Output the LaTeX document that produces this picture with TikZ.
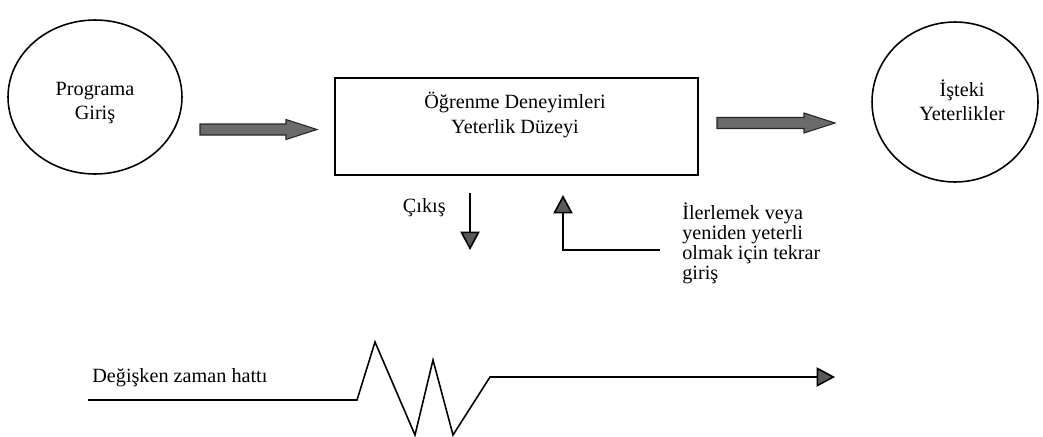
\documentclass[tikz,border=0pt]{standalone}
\usepackage{fontspec}
\setmainfont{Liberation Serif}
\usepackage{tikz}
\usetikzlibrary{arrows.meta,calc,positioning,shapes.geometric}

\tikzset{
	lbl/.style={align=center,inner sep=0pt,font=\fontsize{11.5}{13.7}\selectfont},
	oval/.style={draw,ellipse,line width=0.9pt,inner sep=0pt},
	stagebox/.style={draw,rectangle,line width=0.9pt,minimum width=7.26cm,minimum height=1.94cm},
	fatarrow/.style={draw=black!85,fill=black!58,line width=0.6pt},
	thinarrow/.style={line width=0.9pt,-{Triangle[length=10.5pt,width=11pt,fill=black!65]}}
}

\begin{document}
\begin{tikzpicture}[x=0.02cm,y=-0.02cm]
	\useasboundingbox (0,0) rectangle (1043,436);

	% giris / cikis
	\node[oval,minimum width=3.48cm,minimum height=3.08cm] (prog) at (95,97) {};
	\node[lbl] (progt) at (95,103) {Programa\\Giriş};
	\node[oval,minimum width=3.32cm,minimum height=3.2cm] (is) at (955,102) {};
	\node[lbl] (ist) at (962,100) {İşteki\\Yeterlikler};

	% ogrenme
	\node[stagebox] (ogr) at (516.5,126.5) {};
	\node[lbl] (ogrt) at (515,115) {Öğrenme Deneyimleri\\Yeterlik Düzeyi};

	% kalin oklar
	\coordinate (s1) at (200,129.5);
	\coordinate (t1) at (317,129.5);
	\coordinate (s2) at (717,123);
	\coordinate (t2) at (835,123);
	\foreach \a in {1,2}{
			\draw[fatarrow] ($(s\a)+(0,-5.5)$) -- ($(t\a)+(-31,-5.5)$) -- ($(t\a)+(-31,-10)$) -- (t\a) -- ($(t\a)+(-31,10)$) -- ($(t\a)+(-31,5.5)$) -- ($(s\a)+(0,5.5)$) -- cycle;
		}

	% cikis ve tekrar giris
	\coordinate (c1) at (470,193);
	\coordinate (c2) at (470,250);
	\draw[thinarrow] (c1) -- (c2);
	\node[lbl,anchor=east] (cikis) at (446,208) {Çıkış};

	\coordinate (r1) at (660,250);
	\coordinate (r2) at (563,195);
	\draw[thinarrow] (r1) -| (r2);
	\node[lbl,align=left,anchor=north west,font=\fontsize{11.5}{11.4}\selectfont] (tekrar) at (682,202) {İlerlemek veya\\yeniden yeterli\\olmak için tekrar\\giriş};

	% zaman hatti
	\node[lbl,anchor=base west] (zaman) at (92,382) {Değişken zaman hattı};
	\coordinate (z0) at (88,400);
	\coordinate (z1) at (490,377);
	\coordinate (z2) at (835,377);
	\draw[thinarrow,line join=miter] (z0) -- (357,400) -- (375,342) -- (415,435) -- (433,360) -- (453,435) -- (z1) -- (z2);
\end{tikzpicture}
\end{document}
